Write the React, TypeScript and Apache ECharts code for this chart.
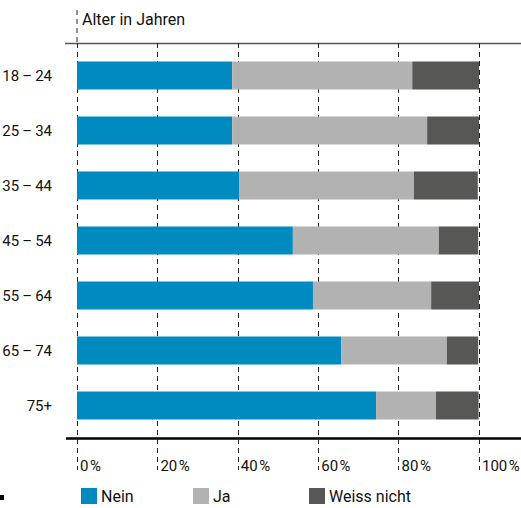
import React, { useEffect, useRef } from "react";
import * as echarts from "echarts";

const categories = ["18\u2009–\u200924", "25\u2009–\u200934", "35\u2009–\u200944", "45\u2009–\u200954", "55\u2009–\u200964", "65\u2009–\u200974", "75+"];
const nein = [38.6, 38.6, 40.3, 53.7, 58.7, 65.7, 74.4];
const ja = [44.8, 48.5, 43.5, 36.3, 29.4, 26.3, 14.9];
const weissNicht = [16.6, 12.9, 15.9, 9.8, 11.9, 7.8, 10.6];
const seriesNames = ["Nein", "Ja", "Weiss nicht"];
const colors = ["#008bc0", "#b2b2b2", "#575756"];
const title = "Alter in Jahren";

const FONT = "Roboto, 'DejaVu Sans Condensed', sans-serif";

export default function App() {
  const ref = useRef<HTMLDivElement>(null);
  useEffect(() => {
    if (!ref.current) return;
    const chart = echarts.init(ref.current, null, { renderer: "svg" });
    const values = [nein, ja, weissNicht];
    const legendLefts = [81, 193, 309];
    chart.setOption({
      animation: false,
      textStyle: { fontFamily: FONT },
      grid: [
        { left: 77, right: 42, top: 43, bottom: 38, outerBoundsMode: "none", containLabel: false },
        { left: 77, right: 42, top: 48, bottom: 75, outerBoundsMode: "none", containLabel: false },
      ],
      xAxis: [
        {
          gridIndex: 0,
          type: "value",
          min: 0,
          max: 100,
          interval: 20,
          axisLine: { show: false },
          axisTick: { show: false },
          axisLabel: { show: false },
          splitLine: { show: true, lineStyle: { color: "#222", type: [5, 4], width: 1 } },
        },
        {
          gridIndex: 1,
          type: "value",
          min: 0,
          max: 100,
          interval: 20,
          axisLine: { show: false },
          axisTick: { show: false },
          splitLine: { show: false },
          axisLabel: {
            show: true,
            margin: 25,
            align: "left",
            padding: [0, 0, 0, 3],
            color: "#111",
            fontSize: 15,
            fontFamily: FONT,
            formatter: (v: number) => v + "\u200a%",
          },
        },
      ],
      yAxis: [
        {
          gridIndex: 0,
          type: "value",
          show: false,
        },
        {
          gridIndex: 1,
          type: "category",
          data: categories,
          inverse: true,
          axisLine: { show: false },
          axisTick: { show: false },
          axisLabel: { margin: 25, color: "#111", fontSize: 15, fontFamily: FONT, padding: [3, 0, 0, 0] },
        },
      ],
      legend: seriesNames.map((n, i) => ({
        data: [n],
        left: legendLefts[i],
        top: 488,
        padding: 0,
        itemWidth: 16,
        itemHeight: 16,
        itemGap: 0,
        icon: "rect",
        textStyle: { color: "#111", fontSize: 16, fontFamily: FONT, padding: [0, 0, 0, -1] },
      })),
      series: seriesNames.map((n, i) => ({
        name: n,
        type: "bar",
        stack: "total",
        xAxisIndex: 1,
        yAxisIndex: 1,
        barWidth: 28,
        itemStyle: { color: colors[i] },
        data: values[i],
      })),
      graphic: [
        { type: "line", shape: { x1: 77, y1: 10, x2: 77, y2: 43 }, style: { stroke: "#222", lineWidth: 1, lineDash: [5, 4] } },
        { type: "line", shape: { x1: 65, y1: 43.5, x2: 521, y2: 43.5 }, style: { stroke: "#555", lineWidth: 1.5 } },
        { type: "line", shape: { x1: 66, y1: 438.5, x2: 521, y2: 438.5 }, style: { stroke: "#000", lineWidth: 2.5 } },
        { type: "text", left: 82, top: 11, style: { text: title, fill: "#111", fontSize: 16, fontFamily: FONT } },
        { type: "rect", shape: { x: 0, y: 495, width: 4, height: 5 }, style: { fill: "#000" } },
      ],
    });
    return () => chart.dispose();
  }, []);
  return <div ref={ref} style={{ width: 521, height: 508, position: "absolute", left: 0, top: 0 }} />;
}
